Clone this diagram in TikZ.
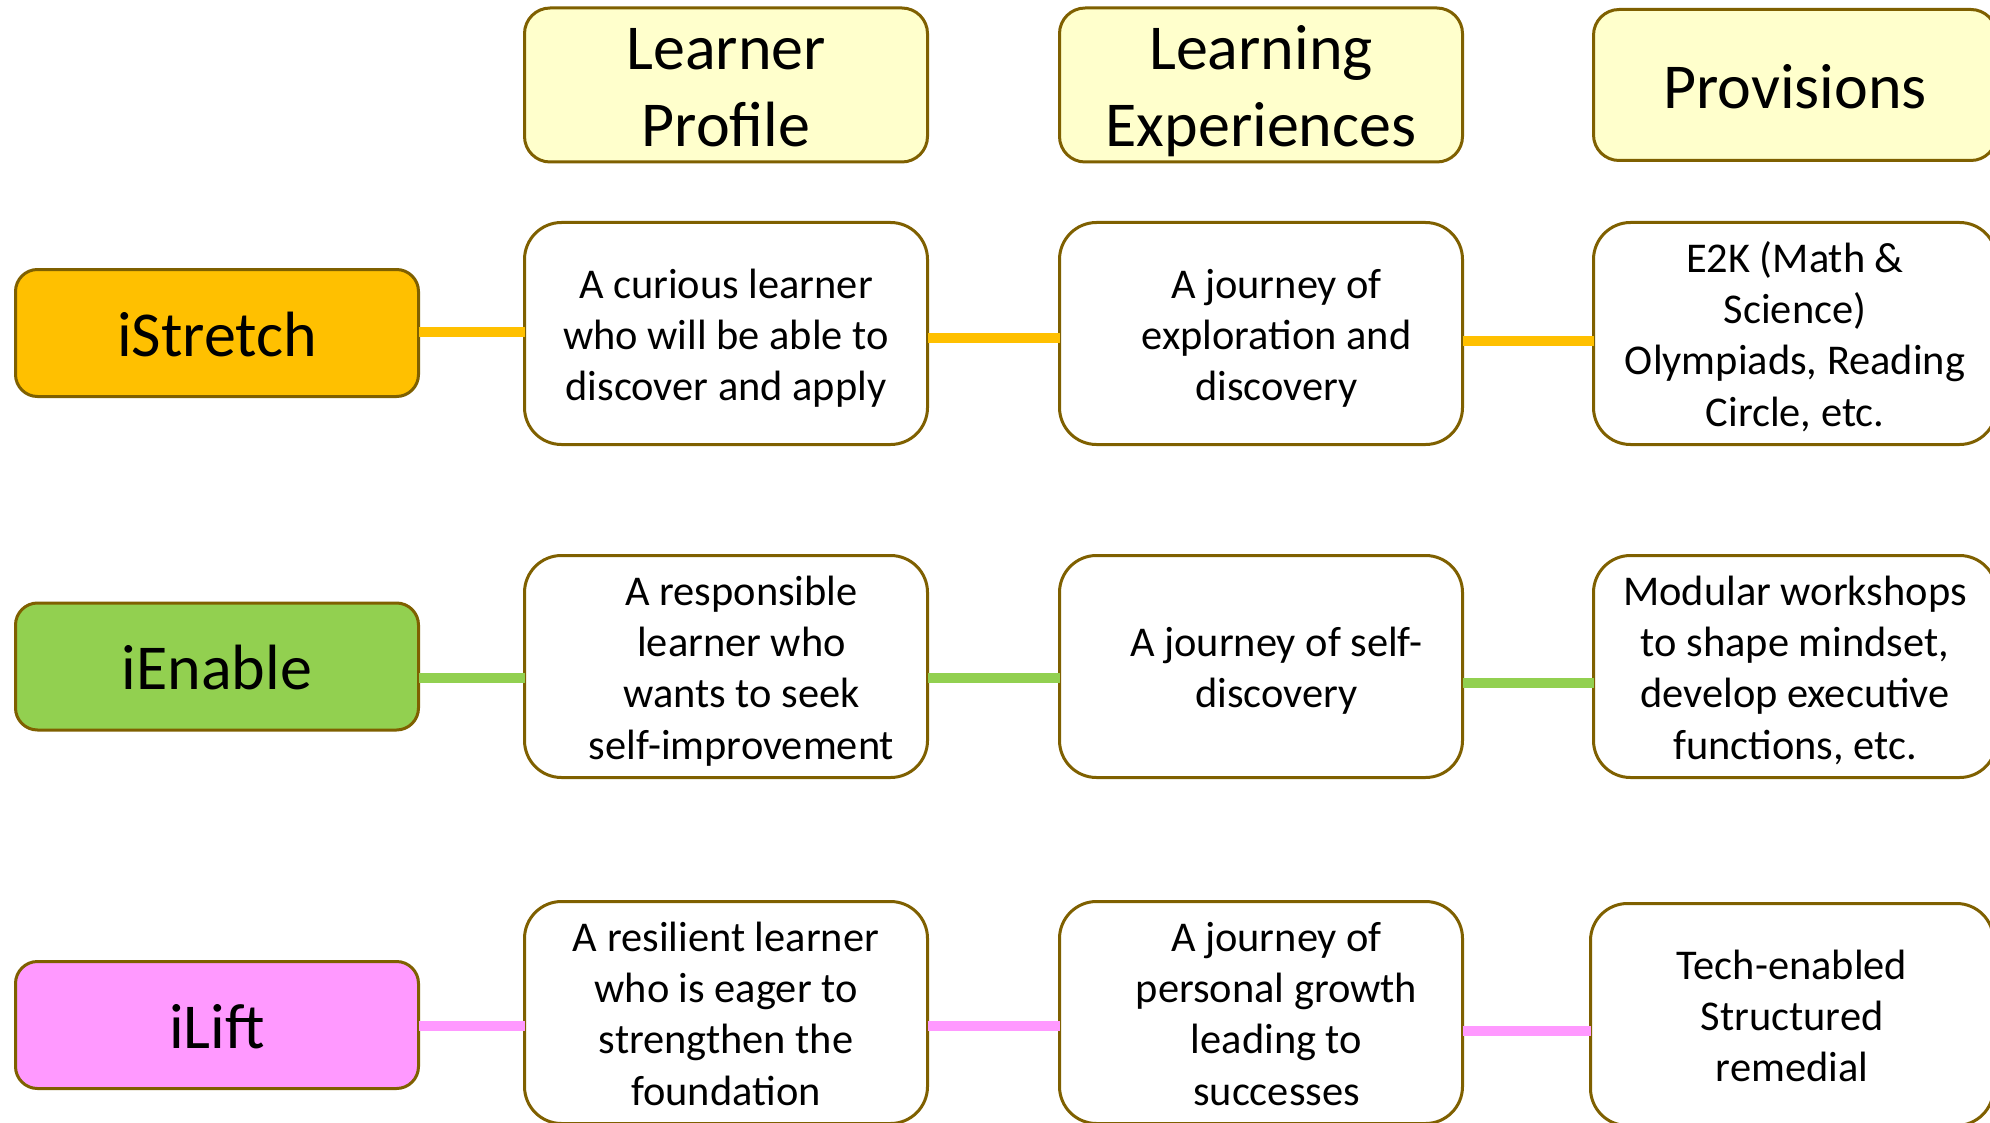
\documentclass[tikz,border=0pt]{standalone}
\usepackage{fontspec}
\setmainfont{Carlito}
\definecolor{brd}{HTML}{7F6000}
\definecolor{hdrfill}{HTML}{FFFFCC}
\definecolor{cS}{HTML}{FFC000}
\definecolor{cE}{HTML}{92D050}
\definecolor{cL}{HTML}{FF99FF}
\newcommand{\sh}{\hspace*{15.5pt}}
% struts fixing the text block like a slide text frame
\newcommand{\bcell}{\rule{0pt}{20.8pt}}
\newcommand{\ecell}{\rule[-5pt]{0pt}{5pt}}
\newcommand{\bhdr}{\rule{0pt}{31pt}}
\newcommand{\ehdr}{\rule[-7.5pt]{0pt}{7.5pt}}
\newcommand{\blbl}{\rule{0pt}{30.5pt}}
\newcommand{\elbl}{\rule[-7.5pt]{0pt}{7.5pt}}
\begin{document}
\begin{tikzpicture}[x=0.5pt,y=-0.5pt,
  boxbase/.style={draw=brd, line width=1.5pt, inner sep=0pt, outer sep=0pt, align=flush center, text width=195pt, minimum width=201.5pt},
  hdr/.style={boxbase, fill=hdrfill, minimum height=75.5pt, rounded corners=12.8pt, font=\fontsize{32}{38.5}\selectfont},
  lbl/.style={boxbase, minimum height=63.5pt, rounded corners=11pt, font=\fontsize{32}{38.5}\selectfont},
  cell/.style={boxbase, fill=white, minimum height=111pt, rounded corners=18.5pt, font=\fontsize{21.2}{25.65}\selectfont},
  conn/.style={line width=4.75pt}
]
\useasboundingbox[fill=white] (0,0) rectangle (1990,1123);

% headers
\node[hdr] (H1) at (726,85) {\bhdr Learner\\Profile\ehdr};
\node[hdr] (H2) at (1261,85) {\bhdr Learning\\Experiences\ehdr};
\node[hdr] (H3) at (1795,85) {\bhdr Provisions\ehdr};

% row labels
\node[lbl, fill=cS] (S) at (217,333) {\blbl iStretch\elbl};
\node[lbl, fill=cE] (E) at (217,666.5) {\blbl iEnable\elbl};
\node[lbl, fill=cL] (L) at (217,1025) {\blbl iLift\elbl};

% row 1
\node[cell] (P1) at (726,333.5) {\bcell A curious learner\\who will be able to\\discover and apply\ecell};
\node[cell] (X1) at (1261,333.5) {\bcell\sh A journey of\\\sh exploration and\\\sh discovery\ecell};
\node[cell] (Q1) at (1795,333.5) {\bcell E2K (Math \&\\Science)\\Olympiads, Reading\\Circle, etc.\ecell};

% row 2
\node[cell] (P2) at (726,666.5) {\bcell\sh A responsible\\\sh learner who\\\sh wants to seek\\\sh self-improvement\ecell};
\node[cell] (X2) at (1261,666.5) {\bcell\sh A journey of self-\\\sh discovery\ecell};
\node[cell] (Q2) at (1795,666.5) {\bcell Modular workshops\\to shape mindset,\\develop executive\\functions, etc.\ecell};

% row 3
\node[cell] (P3) at (726,1012.5) {\bcell A resilient learner\\who is eager to\\strengthen the\\foundation\ecell};
\node[cell] (X3) at (1261,1012.5) {\bcell\sh A journey of\\\sh personal growth\\\sh leading to\\\sh successes\ecell};
\node[cell] (Q3) at (1792,1014.5) {\bcell Tech-enabled\\Structured\\remedial\ecell};

% connectors
\draw[conn, cS] ([yshift=0.5pt]S.east) -- ([yshift=0.5pt]S.east -| P1.west);
\draw[conn, cS] ([yshift=-2.25pt]P1.east) -- ([yshift=-2.25pt]P1.east -| X1.west);
\draw[conn, cS] ([yshift=-3.75pt]X1.east) -- ([yshift=-3.75pt]X1.east -| Q1.west);

\draw[conn, cE] ([yshift=-5.75pt]E.east) -- ([yshift=-5.75pt]E.east -| P2.west);
\draw[conn, cE] ([yshift=-5.75pt]P2.east) -- ([yshift=-5.75pt]P2.east -| X2.west);
\draw[conn, cE] ([yshift=-8.25pt]X2.east) -- ([yshift=-8.25pt]X2.east -| Q2.west);

\draw[conn, cL] ([yshift=-0.5pt]L.east) -- ([yshift=-0.5pt]L.east -| P3.west);
\draw[conn, cL] ([yshift=-6.75pt]P3.east) -- ([yshift=-6.75pt]P3.east -| X3.west);
\draw[conn, cL] ([yshift=-9.25pt]X3.east) -- ([yshift=-9.25pt]X3.east -| Q3.west);
\end{tikzpicture}
\end{document}
